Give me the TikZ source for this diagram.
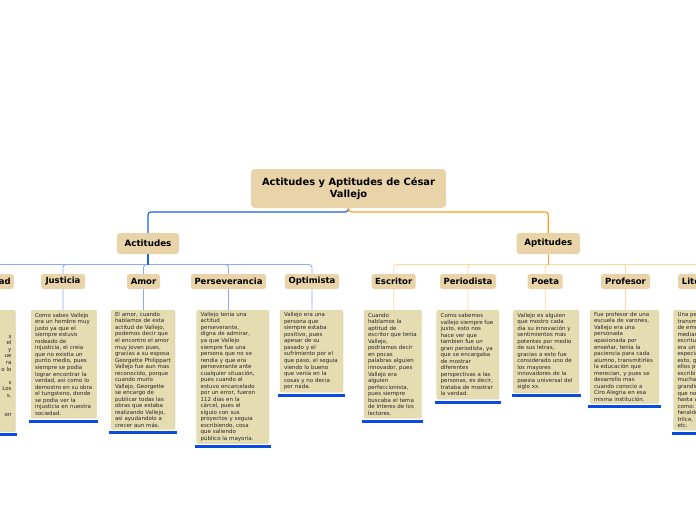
\documentclass[tikz,border=0pt]{standalone}
\usepackage{fontspec}
\setmainfont{DejaVu Sans}
\definecolor{nodefill}{HTML}{E8D4A8}
\definecolor{textfill}{HTML}{E6DCB2}
\definecolor{textedge}{HTML}{DDD2A6}
\definecolor{mainblue}{HTML}{1F5FE8}
\definecolor{lightblue}{HTML}{8FAAF5}
\definecolor{mainorange}{HTML}{F5A01E}
\definecolor{lightorange}{HTML}{FCD9A2}
\definecolor{barblue}{HTML}{0A4CE0}
\definecolor{txtcol}{HTML}{262626}
\pgfdeclarelayer{bg}
\pgfsetlayers{bg,main}
\begin{document}
\begin{tikzpicture}[x=1pt,y=-1pt,
  titlebox/.style={fill=nodefill, rounded corners=4pt, font=\bfseries\fontsize{9.9}{11.5}\selectfont, align=center, minimum width=195pt, minimum height=39pt, inner sep=0pt},
  catbox/.style={fill=nodefill, rounded corners=3pt, font=\bfseries\fontsize{8.7}{10}\selectfont, minimum height=21pt, inner sep=0pt},
  kidbox/.style={fill=nodefill, rounded corners=2.5pt, font=\bfseries\fontsize{8.5}{10}\selectfont, minimum height=15pt, inner sep=0pt},
  txtbox/.style={fill=textfill, draw=textedge, line width=0.4pt, rounded corners=2pt, text=txtcol, font=\fontsize{5.5}{6.53}\selectfont, align=left, anchor=north, inner xsep=4pt, inner ysep=2pt},
  bar/.style={barblue, line width=3pt},
  mainb/.style={mainblue, line width=1.2pt, rounded corners=3pt},
  maino/.style={mainorange, line width=1.2pt, rounded corners=3pt},
  lightb/.style={lightblue, line width=0.9pt, rounded corners=3pt},
  lighto/.style={lightorange, line width=0.9pt, rounded corners=3pt}
]
\useasboundingbox (0,0) rectangle (696,520);
\clip (0,0) rectangle (696,520);

% main nodes
\node[titlebox] (title) at (348.5,188.5) {Actitudes y Aptitudes de César\\Vallejo};
\node[catbox, minimum width=62pt] (act) at (148,243.5) {Actitudes};
\node[catbox, minimum width=63.3pt] (apt) at (548.3,243.5) {Aptitudes};

% labels
\node[kidbox, anchor=east, inner xsep=3pt, text width=54pt, align=right] (adlab) at (14,281.5) {ad};
\node[kidbox, minimum width=44pt] (jlab) at (63,281.5) {Justicia};
\node[kidbox, minimum width=33pt] (amlab) at (143.5,281.5) {Amor};
\node[kidbox, minimum width=75pt] (pslab) at (228.5,281.5) {Perseverancia};
\node[kidbox, minimum width=54pt] (oplab) at (312,281.5) {Optimista};
\node[kidbox, minimum width=44pt] (eslab) at (393.7,281.5) {Escritor};
\node[kidbox, minimum width=56pt] (pelab) at (468,281.5) {Periodista};
\node[kidbox, minimum width=35pt] (polab) at (545.2,281.5) {Poeta};
\node[kidbox, minimum width=49pt] (prlab) at (625.5,281.5) {Profesor};
\node[kidbox, anchor=west, inner xsep=3.7pt] (lilab) at (678,281.5) {Literatura};

% text boxes
\node[txtbox, anchor=north east, align=right, text width=50pt, minimum height=121.7pt] (adtext) at (15.7,310) {\mbox{}\\\mbox{}\\\mbox{}\\s\\el\\y\\ue\\ra\\o lo\\\mbox{}\\s\\Los\\s.\\\mbox{}\\\mbox{}\\on\\\mbox{}};
\node[txtbox, text width=57.7pt, minimum height=108pt] (jtext) at (63.85,310) {Como sabes Vallejo\\era un hombre muy\\justo ya que el\\siempre estuvo\\rodeado de\\injusticia, el creia\\que no existia un\\punto medio, pues\\siempre se podia\\lograr encontrar la\\verdad, asi como lo\\demostro en su obra\\el tungsteno, donde\\se podia ver la\\injusticia en nuestra\\sociedad.};
\node[txtbox, text width=56pt, minimum height=119pt] (amtext) at (143,310) {El amor, cuando\\hablamos de esta\\actitud de Vallejo,\\podemos decir que\\el encontro el amor\\muy joven pues,\\gracias a su esposa\\Georgette Philippart\\Vallejo fue aun mas\\reconocido, porque\\cuando murio\\Vallejo, Georgette\\se encargo de\\publicar todas las\\obras que estaba\\realizando Vallejo,\\asi ayudandolo a\\crecer aun más.};
\node[txtbox, text width=64.3pt, minimum height=133pt] (pstext) at (232.85,310) {Vallejo tenia una\\actitud\\perseverante,\\digna de admirar,\\ya que Vallejo\\siempre fue una\\persona que no se\\rendia y que era\\perseverante ante\\cualquier situación,\\pues cuando el\\estuvo encarcelado\\por un error, fueron\\112 días en la\\cárcel, pues el\\siguio con sus\\proyectos y seguia\\escribiendo, cosa\\que saliendo\\público la mayoria.};
\node[txtbox, text width=55pt, minimum height=82pt] (optext) at (311.5,310) {Vallejo era una\\persona que\\siempre estaba\\positivo, pues\\apesar de su\\pasado y el\\sufrimiento por el\\que paso, el seguia\\viendo lo bueno\\que venia en la\\cosas y no decia\\por nada.};
\node[txtbox, text width=49.7pt, minimum height=108pt] (estext) at (392.85,310) {Cuando\\hablamos la\\aptitud de\\escritor que tenia\\Vallejo,\\podriamos decir\\en pocas\\palabras alguien\\innovador, pues\\Vallejo era\\alguien\\perfeccionista,\\pues siempre\\buscaba el tema\\de interes de los\\lectores.};
\node[txtbox, text width=54.3pt, minimum height=89pt] (petext) at (467.85,310) {Como sabemos\\vallejo siempre fue\\justo, esto nos\\hace ver que\\tambien fue un\\gran periodista, ya\\que se encargaba\\de mostrar\\diferentes\\perspectivas a las\\personas, es decir,\\trataba de mostrar\\la verdad.};
\node[txtbox, text width=57.7pt, minimum height=82.7pt] (potext) at (546.15,310) {Vallejo es alguien\\que mostro cada\\dia su innovación y\\sentimientos más\\potentes por medio\\de sus letras,\\gracias a esto fue\\considerado uno de\\los mayores\\innovadores de la\\poesia universal del\\siglo xx.};
\node[txtbox, text width=61pt, minimum height=93pt] (prtext) at (624.5,310) {Fue profesor de una\\escuela de varones,\\Vallejo era una\\personada\\apasionada por\\enseñar, tenia la\\paciencia para cada\\alumno, transmitirles\\la educación que\\merecian, y pues se\\desarrollo mas\\cuando conocio a\\Ciro Alegria en esa\\misma institución.};
\node[txtbox, anchor=north west, text width=62pt, minimum height=120pt] (litext) at (673.3,310) {Una persona que\\transmitía\\de emociones\\mediante la\\escritura,\\era un poeta\\especial, por\\esto, gracias a\\ellos pudo\\escribir\\muchas obras\\grandiosas\\que no se ven\\hasta ahora\\como: Los\\heraldos negros,\\trilce,\\etc.};

% bars
\foreach \n in {adtext,jtext,amtext,pstext,optext,estext,petext,potext,prtext,litext}{
  \draw[bar] ([xshift=-1.5pt,yshift=-2.7pt]\n.south west) -- ([xshift=1.5pt,yshift=-2.7pt]\n.south east);
}

% connectors
\begin{pgfonlayer}{bg}
\fill[white] (0,0) rectangle (696,520);
\draw[mainb] (title.south) -- ++(0,3.7) -| (act.north);
\draw[maino] (title.south) -- ++(0,3.7) -| (apt.north);
\path (act.south) ++(0,10.3) coordinate (actj);
\path (apt.south) ++(0,10.3) coordinate (aptj);
\draw[lightb] (actj) -| (adtext.north -| adlab.center);
\draw[lightb] (actj) -| (jtext.north -| jlab.center);
\draw[lightb] (actj) -| (amtext.north -| amlab.center);
\draw[lightb] (actj) -| (pstext.north -| pslab.center);
\draw[lightb] (actj) -| (optext.north -| oplab.center);
\draw[mainb] (act.south) -- (actj);
\draw[lighto] (aptj) -| (estext.north -| eslab.center);
\draw[lighto] (aptj) -| (petext.north -| pelab.center);
\draw[lighto] (aptj) -| (potext.north -| polab.center);
\draw[lighto] (aptj) -| (prtext.north -| prlab.center);
\draw[lighto] (aptj) -| (litext.north -| lilab.center);
\draw[maino] (apt.south) -- (aptj);
\end{pgfonlayer}
\end{tikzpicture}
\end{document}
